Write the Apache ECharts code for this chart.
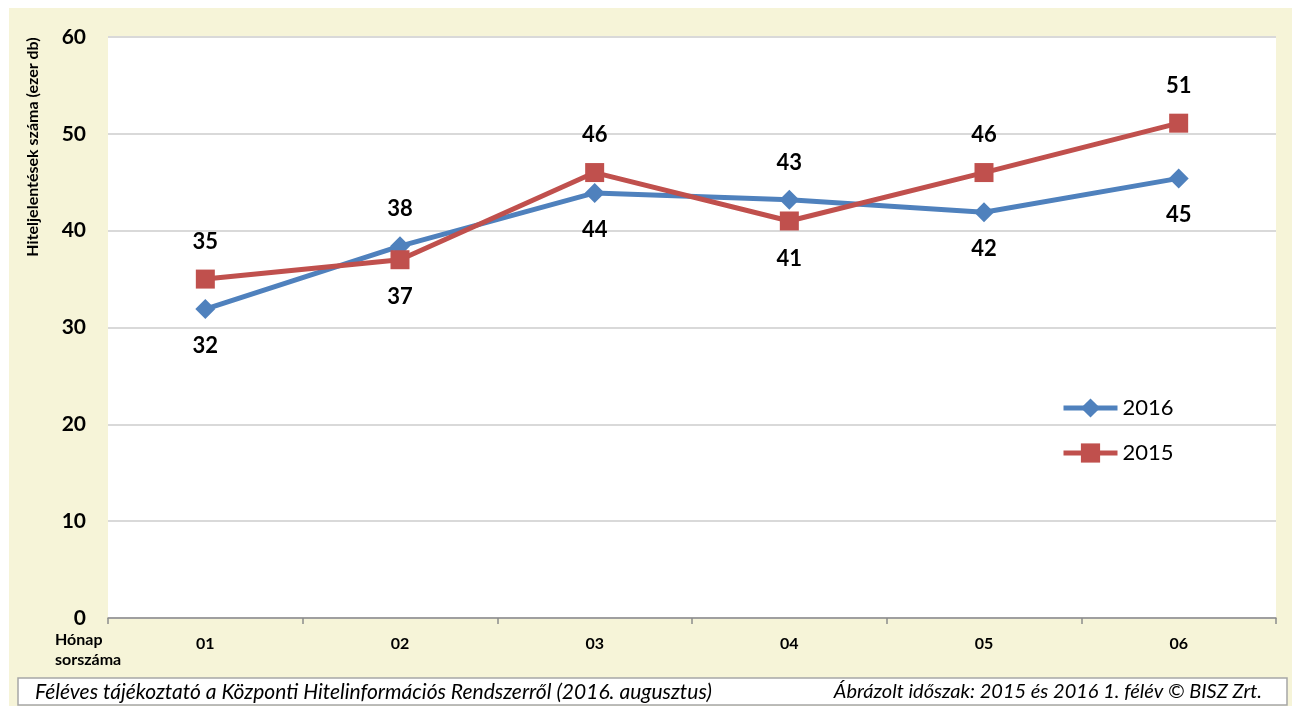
<!DOCTYPE html>
<html>
<head>
<meta charset="utf-8">
<script src="https://cdn.jsdelivr.net/npm/echarts@6/dist/echarts.min.js"></script>
<style>
  html, body { margin: 0; padding: 0; background: #ffffff; }
  #chart { width: 1292px; height: 706px; }
</style>
</head>
<body>
<div id="chart"></div>
<script>
// Havi hiteljelentések száma (ezer db), 2015 és 2016 első féléve
const months = ['01', '02', '03', '04', '05', '06'];
const values2016 = [31.9, 38.4, 43.9, 43.2, 41.9, 45.4];
const values2015 = [35.0, 37.0, 46.0, 41.0, 46.0, 51.1];
const yTicks = [0, 10, 20, 30, 40, 50, 60];

const FONT = 'Lato, "Open Sans", sans-serif';
const BLUE = '#4F81BD';
const RED = '#C0504D';

// label placement per point (above / below the marker)
const side2016 = ['bottom', 'top', 'bottom', 'top', 'bottom', 'bottom'];
const side2015 = ['top', 'bottom', 'top', 'bottom', 'top', 'top'];

function withLabels(values, sides, dist) {
  return values.map((v, i) => ({
    value: v,
    label: { position: sides[i], distance: dist }
  }));
}

const chart = echarts.init(document.getElementById('chart'), null, { renderer: 'canvas' });

const valueLabel = {
  show: true,
  fontFamily: FONT, fontSize: 22, fontWeight: 'bold', color: '#000',
  formatter: p => Math.round(p.value).toString()
};

const option = {
  animation: false,
  backgroundColor: '#ffffff',
  grid: { left: 108, right: 16, top: 37, bottom: 88, show: true, backgroundColor: '#ffffff', borderWidth: 0 },
  graphic: [
    { type: 'rect', z: -10, shape: { x: 9, y: 8, width: 1283, height: 698 }, style: { fill: '#F6F4D8' } },
    { type: 'rect', z: 10, shape: { x: 18, y: 678, width: 1269, height: 27 }, style: { fill: '#ffffff', stroke: '#A6A6A6', lineWidth: 1.5 } },
    { type: 'text', z: 11, x: 35, y: 692, style: { text: 'Féléves tájékoztató a Központi Hitelinformációs Rendszerről (2016. augusztus)', font: 'italic 21px ' + FONT, fill: '#000', verticalAlign: 'middle', align: 'left' } },
    { type: 'text', z: 11, x: 1262, y: 692, style: { text: 'Ábrázolt időszak: 2015 és 2016 1. félév © BISZ Zrt.', font: 'italic 20px ' + FONT, fill: '#000', verticalAlign: 'middle', align: 'right' } },
    { type: 'text', z: 11, x: 55, y: 640, style: { text: 'Hónap', font: 'bold 16px ' + FONT, fill: '#000', verticalAlign: 'middle', align: 'left' } },
    { type: 'text', z: 11, x: 55, y: 660, style: { text: 'sorszáma', font: 'bold 16px ' + FONT, fill: '#000', verticalAlign: 'middle', align: 'left' } },
    { type: 'text', z: 11, x: 33, y: 147, rotation: Math.PI / 2, style: { text: 'Hiteljelentések száma (ezer db)', font: 'bold 16px ' + FONT, fill: '#000', verticalAlign: 'middle', align: 'center' } }
  ],
  legend: {
    orient: 'vertical',
    left: 1056,
    top: 392,
    itemWidth: 54,
    itemHeight: 24,
    itemGap: 23,
    lineStyle: { width: 5 },
    textStyle: { fontFamily: FONT, fontSize: 22, color: '#000' },
    data: ['2016', '2015']
  },
  xAxis: {
    type: 'category',
    data: months,
    boundaryGap: true,
    axisLine: { show: true, lineStyle: { color: '#8C8C8C', width: 1.5 } },
    axisTick: { show: true, alignWithLabel: false, length: 6, lineStyle: { color: '#8C8C8C', width: 1.5 } },
    axisLabel: { fontFamily: FONT, fontSize: 16, fontWeight: 'bold', color: '#000', margin: 18 },
    splitLine: { show: false }
  },
  yAxis: {
    type: 'value',
    min: yTicks[0],
    max: yTicks[yTicks.length - 1],
    interval: 10,
    axisLine: { show: false },
    axisTick: { show: false },
    axisLabel: { fontFamily: FONT, fontSize: 21, fontWeight: 'bold', color: '#000', margin: 22 },
    splitLine: { show: true, lineStyle: { color: '#D9D9D9', width: 2 } }
  },
  series: [
    {
      name: '2016',
      type: 'line',
      data: withLabels(values2016, side2016, 16),
      symbol: 'diamond',
      symbolSize: 20,
      lineStyle: { color: BLUE, width: 5 },
      itemStyle: { color: BLUE },
      label: valueLabel,
      z: 3
    },
    {
      name: '2015',
      type: 'line',
      data: withLabels(values2015, side2015, 17),
      symbol: 'rect',
      symbolSize: 19,
      lineStyle: { color: RED, width: 5 },
      itemStyle: { color: RED },
      label: valueLabel,
      z: 4
    }
  ]
};

chart.setOption(option);
</script>
</body>
</html>
